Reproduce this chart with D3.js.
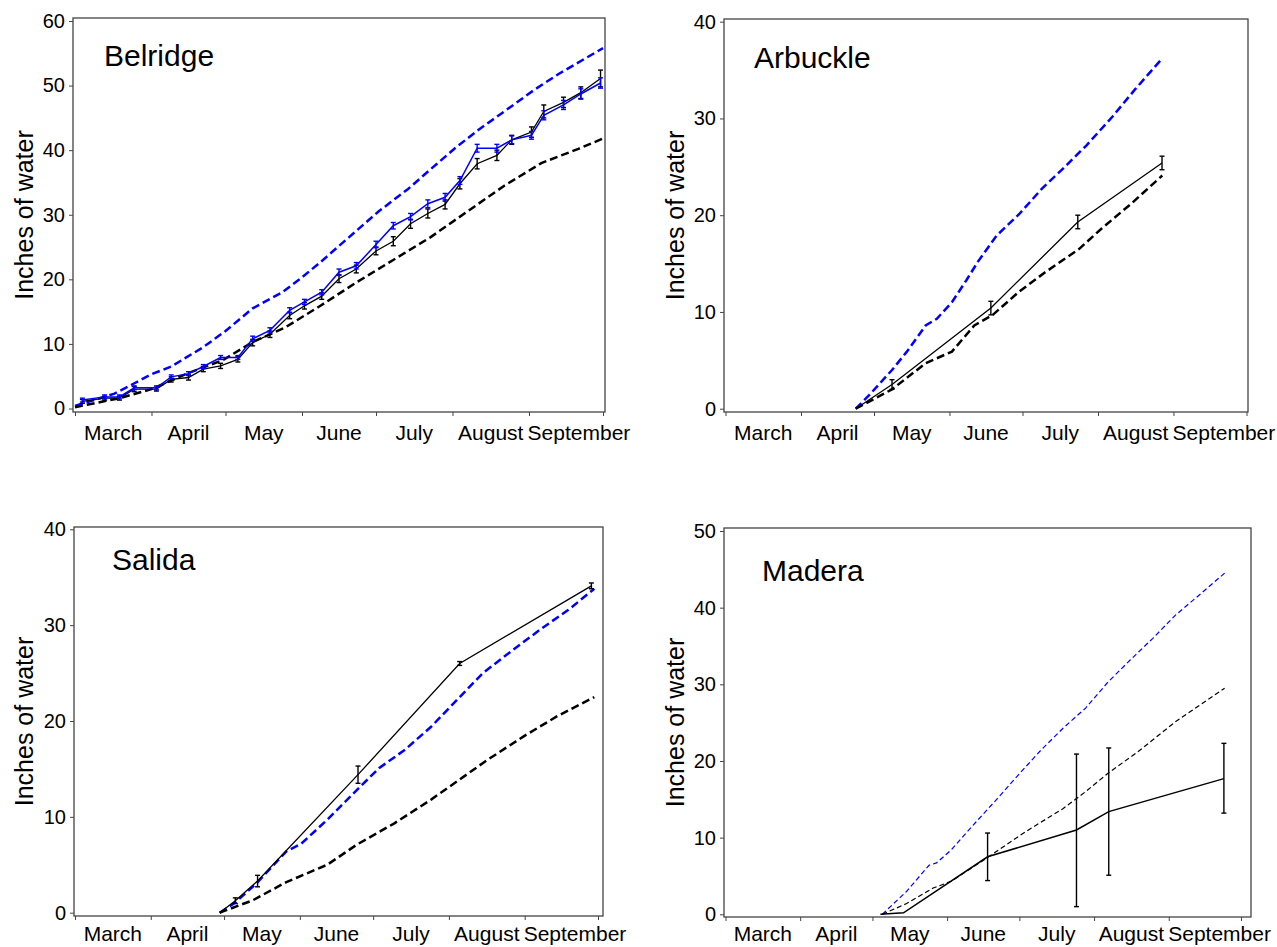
<style>
	html, body { margin: 0; padding: 0; overflow: hidden; background: #fff; }
	svg { display: block; }
</style>
<svg width="1277" height="947"></svg>

<script src="https://d3js.org/d3.v7.min.js"></script>
<script>
	// cumulative water use, four sites, March - September
	// x values are days after March 1

	const monthNames = ["March", "April", "May", "June", "July", "August", "September"]
	const monthStart = [0, 31, 61, 92, 122, 153, 184, 214]

	// Belridge
	const belDays = [3, 12, 18, 24, 33, 39, 46, 52, 59, 66, 72, 79, 87, 93, 100, 107, 114, 122, 129, 136, 143, 150, 156, 163, 171, 177, 185, 190, 198, 205, 213]
	const belBlack = [1.1, 1.6, 1.6, 3.0, 3.0, 4.5, 4.8, 6.1, 6.6, 7.6, 10.2, 11.5, 14.4, 15.9, 17.4, 20.1, 21.6, 24.4, 25.9, 28.6, 30.2, 31.6, 34.8, 37.9, 39.2, 41.6, 42.8, 46.0, 47.4, 48.9, 51.1]
	const belBlackErr = [0.3, 0.3, 0.3, 0.4, 0.3, 0.4, 0.4, 0.4, 0.4, 0.4, 0.5, 0.5, 0.5, 0.5, 0.5, 0.6, 0.6, 0.6, 0.7, 0.7, 0.7, 0.7, 0.8, 0.8, 0.8, 0.7, 0.8, 1.0, 0.8, 0.9, 1.3]
	const belBlue = [1.3, 1.8, 1.8, 3.2, 3.2, 4.9, 5.4, 6.5, 7.9, 7.9, 10.8, 12.1, 15.2, 16.5, 18.0, 21.1, 22.1, 25.4, 28.3, 29.7, 31.7, 32.7, 35.3, 40.3, 40.3, 41.6, 42.3, 45.4, 47.0, 48.7, 50.4]
	const belBlueErr = [0.3, 0.3, 0.3, 0.3, 0.3, 0.3, 0.3, 0.3, 0.3, 0.3, 0.4, 0.4, 0.4, 0.4, 0.4, 0.5, 0.5, 0.5, 0.5, 0.5, 0.6, 0.6, 0.6, 0.6, 0.6, 0.6, 0.6, 0.7, 0.7, 0.8, 0.8]
	const belHiDays = [0, 16, 31, 39, 52, 61, 72, 84, 91, 99, 111, 123, 135, 144, 154, 163, 174, 186, 196, 214]
	const belHi = [0.4, 2.3, 5.3, 6.5, 9.5, 12.0, 15.5, 18.0, 20.0, 22.5, 26.5, 30.5, 34.0, 37.0, 40.3, 43.0, 46.0, 49.3, 51.8, 55.8]
	const belLoDays = [0, 18, 31, 46, 60, 72, 85, 99, 114, 129, 144, 159, 174, 189, 204, 214]
	const belLo = [0.2, 1.6, 3.0, 5.5, 7.5, 10.3, 12.5, 15.8, 19.5, 23.0, 26.5, 30.5, 34.5, 38.0, 40.2, 41.8]

	// Arbuckle
	const arbDays = [53.5, 68.4, 109, 144.7, 179.3]
	const arbVals = [0, 2.5, 10.4, 19.3, 25.4]
	const arbErr = [0, 0.5, 0.7, 0.7, 0.7]
	const arbHiDays = [53.5, 59, 68.4, 74.5, 82.2, 86.8, 93, 99, 103.7, 111.4, 120.6, 129.8, 139, 148.2, 159, 168.2, 179.4]
	const arbHi = [0, 1.4, 4.0, 5.9, 8.6, 9.3, 11.0, 13.3, 15.2, 17.9, 20.1, 22.7, 24.9, 27.2, 30.2, 33.0, 36.2]
	const arbLoDays = [53.5, 68.4, 82.2, 93, 102.2, 109.8, 120.6, 131.3, 145.2, 154.4, 166.7, 179.4]
	const arbLo = [0, 2.0, 4.7, 5.9, 8.6, 9.7, 12.1, 14.1, 16.5, 18.6, 21.2, 24.1]

	// Salida
	const salDays = [59.2, 65.6, 74.7, 115.8, 157.4, 211.3]
	const salVals = [0, 1.25, 3.3, 14.4, 26.0, 34.1]
	const salErr = [0, 0.3, 0.6, 0.9, 0.2, 0.3]
	const salHiDays = [59.2, 65.3, 74.4, 86.5, 92.6, 103.2, 115.3, 124.5, 135, 145.7, 156.3, 166.9, 179.1, 191.2, 201.9, 212.5]
	const salHi = [0, 1.0, 3.1, 6.4, 7.2, 9.7, 12.8, 15.1, 17.0, 19.4, 22.2, 25.0, 27.4, 29.7, 31.6, 33.8]
	const salLoDays = [59.2, 72.8, 86.5, 103.2, 115.3, 130.5, 145.7, 156.3, 168.5, 183.6, 197.3, 212.5]
	const salLo = [0, 1.3, 3.2, 5.0, 7.1, 9.3, 11.8, 13.7, 15.9, 18.4, 20.5, 22.5]

	// Madera
	const madDays = [64.3, 73.9, 108.8, 145.7, 159.1, 206.9]
	const madVals = [0, 0.2, 7.5, 11.0, 13.4, 17.7]
	const madErrLo = [null, null, 4.4, 1.0, 5.1, 13.2]
	const madErrHi = [null, null, 10.6, 20.9, 21.7, 22.3]
	const madHiDays = [65.1, 75.2, 84.5, 87.6, 93.7, 103, 112.3, 121.6, 130.9, 140.2, 149.5, 158.8, 168.1, 177.4, 186.7, 197.6, 207.2]
	const madHi = [0, 3.0, 6.4, 6.7, 8.4, 11.7, 14.9, 18.2, 21.4, 24.3, 26.9, 30.3, 33.2, 36.0, 39.0, 41.9, 44.5]
	const madLoDays = [65.1, 75.2, 86, 93.7, 109.2, 124.7, 140.2, 149.5, 158.8, 171.2, 186.7, 207.2]
	const madLo = [0, 1.4, 3.4, 4.3, 7.5, 10.8, 13.8, 16.0, 18.4, 21.2, 25.1, 29.5]

	const font = "Arial, 'Liberation Sans', sans-serif"
	const frameColor = "#444"

	const svg = d3.select("svg")
		.attr("font-family", font)
		.style("background", "#fff")

	const errBars = (days, vals, errs) => days.map((d, i) => ({x: d, lo: vals[i] - errs[i], hi: vals[i] + errs[i], skip: !errs[i]}))

	const panels = [
		{
			title: "Belridge", box: [73, 18, 605, 412], xr: [75, 603], yr: [408.5, 21], ymax: 60,
			titlePos: [104, 66], labelX: 33,
			dashed: [
				{days: belHiDays, vals: belHi, color: "blue", w: 2.5, dash: "8,4"},
				{days: belLoDays, vals: belLo, color: "black", w: 2.5, dash: "8,4"}
			],
			solid: [
				{days: belDays, vals: belBlack, color: "black", w: 1.3, bars: errBars(belDays, belBlack, belBlackErr)},
				{days: belDays, vals: belBlue, color: "blue", w: 1.5, bars: errBars(belDays, belBlue, belBlueErr)}
			]
		},
		{
			title: "Arbuckle", box: [724, 19, 1248, 412], xr: [725.5, 1246.5], yr: [408.7, 21.7], ymax: 40,
			titlePos: [754, 68], labelX: 684,
			dashed: [
				{days: arbHiDays, vals: arbHi, color: "blue", w: 2.5, dash: "8,4"},
				{days: arbLoDays, vals: arbLo, color: "black", w: 2.5, dash: "8,4"}
			],
			solid: [
				{days: arbDays, vals: arbVals, color: "black", w: 1.3, bars: errBars(arbDays, arbVals, arbErr)}
			]
		},
		{
			title: "Salida", box: [74, 527, 603, 916], xr: [75, 598], yr: [912.7, 529.3], ymax: 40,
			titlePos: [112, 570], labelX: 33,
			dashed: [
				{days: salHiDays, vals: salHi, color: "blue", w: 2.5, dash: "8,4"},
				{days: salLoDays, vals: salLo, color: "black", w: 2.5, dash: "8,4"}
			],
			solid: [
				{days: salDays, vals: salVals, color: "black", w: 1.3, bars: errBars(salDays, salVals, salErr)}
			]
		},
		{
			title: "Madera", box: [724, 528, 1251, 917], xr: [725.5, 1241], yr: [914.3, 531], ymax: 50,
			titlePos: [762, 581], labelX: 684,
			dashed: [
				{days: madHiDays, vals: madHi, color: "blue", w: 1.2, dash: "5,3"},
				{days: madLoDays, vals: madLo, color: "black", w: 1.2, dash: "5,3"}
			],
			solid: [
				{days: madDays, vals: madVals, color: "black", w: 1.5,
					bars: madDays.map((d, i) => ({x: d, lo: madErrLo[i], hi: madErrHi[i], skip: madErrLo[i] == null}))}
			]
		}
	]

	panels.forEach(drawPanel)

	function drawPanel(p) {
		const [left, top, right, bottom] = p.box
		const x = d3.scaleLinear().domain([0, 214]).range(p.xr)
		const y = d3.scaleLinear().domain([0, p.ymax]).range(p.yr)
		const g = svg.append("g")

		// frame
		g.append("rect")
			.attr("x", left).attr("y", top)
			.attr("width", right - left).attr("height", bottom - top)
			.attr("fill", "none").attr("stroke", frameColor).attr("stroke-width", 1.3)

		// y axis
		const yAxis = g.append("g")
			.attr("transform", `translate(${left},0)`)
			.call(d3.axisLeft(y).tickValues(d3.range(0, p.ymax + 1, 10)).tickSize(4).tickPadding(4))
		yAxis.select(".domain").remove()
		yAxis.selectAll(".tick line").attr("stroke", frameColor)
		yAxis.selectAll("text").attr("font-size", 20).attr("font-family", font).attr("fill", "#000")

		// x axis: ticks at month starts, names centred in each month
		const xAxis = g.append("g")
			.attr("transform", `translate(0,${bottom})`)
			.call(d3.axisBottom(x).tickValues(monthStart).tickSize(4).tickFormat(""))
		xAxis.select(".domain").remove()
		xAxis.selectAll(".tick line").attr("stroke", frameColor)

		const labels = g.selectAll(".month")
			.data(monthNames)
			.join("text")
				.attr("class", "month")
				.attr("x", (d, i) => x((monthStart[i] + monthStart[i + 1]) / 2))
				.attr("y", Math.min(bottom + 28, 941))
				.attr("text-anchor", "middle")
				.attr("font-size", 21)
				.text(d => d)
		// nudge labels that run into the previous one (September)
		let prevEnd = -Infinity
		labels.each(function() {
			const b = this.getBBox()
			if (b.x < prevEnd + 4) {
				const shift = prevEnd + 4 - b.x
				d3.select(this).attr("x", +d3.select(this).attr("x") + shift)
				prevEnd = b.x + b.width + shift
			} else prevEnd = b.x + b.width
		})

		g.append("text")
			.attr("transform", `translate(${p.labelX},${(top + bottom) / 2}) rotate(-90)`)
			.attr("text-anchor", "middle")
			.attr("font-size", 25)
			.text("Inches of water")

		g.append("text")
			.attr("x", p.titlePos[0]).attr("y", p.titlePos[1])
			.attr("font-size", 30)
			.text(p.title)

		const line = d3.line().x(d => x(d[0])).y(d => y(d[1]))

		p.dashed.forEach(s => {
			g.append("path")
				.attr("d", line(d3.zip(s.days, s.vals)))
				.attr("fill", "none")
				.attr("stroke", s.color)
				.attr("stroke-width", s.w)
				.attr("stroke-dasharray", s.dash)
		})

		p.solid.forEach(s => {
			g.append("path")
				.attr("d", line(d3.zip(s.days, s.vals)))
				.attr("fill", "none")
				.attr("stroke", s.color)
				.attr("stroke-width", s.w)

			const bars = g.append("g").attr("stroke", s.color).attr("stroke-width", 1.4)
				.selectAll("g")
				.data(s.bars.filter(b => !b.skip))
				.join("g")
			bars.append("line")
				.attr("x1", b => x(b.x)).attr("x2", b => x(b.x))
				.attr("y1", b => y(b.lo)).attr("y2", b => y(b.hi))
			bars.append("line")
				.attr("x1", b => x(b.x) - 2.5).attr("x2", b => x(b.x) + 2.5)
				.attr("y1", b => y(b.lo)).attr("y2", b => y(b.lo))
			bars.append("line")
				.attr("x1", b => x(b.x) - 2.5).attr("x2", b => x(b.x) + 2.5)
				.attr("y1", b => y(b.hi)).attr("y2", b => y(b.hi))
		})
	}
</script>
